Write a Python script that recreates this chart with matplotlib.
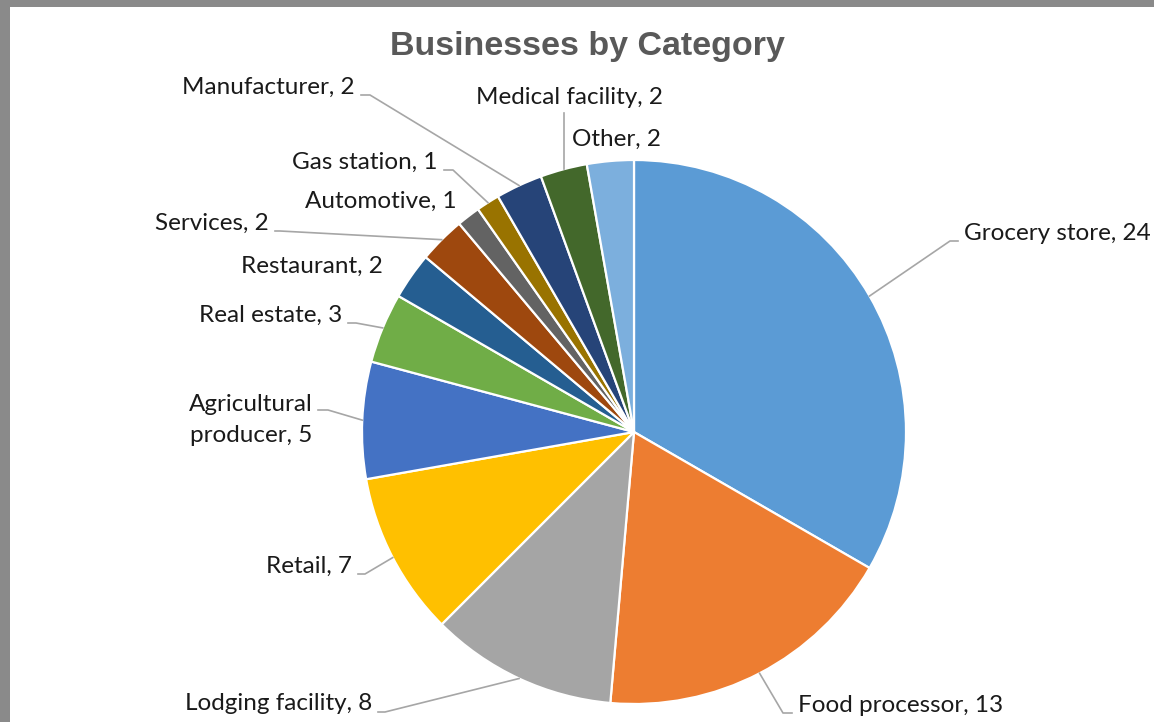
import numpy as np
import matplotlib.pyplot as plt
from matplotlib.patches import Rectangle

# data
categories = ["Grocery store", "Food processor", "Lodging facility", "Retail",
              "Agricultural\nproducer", "Real estate", "Restaurant", "Services",
              "Automotive", "Gas station", "Manufacturer", "Medical facility", "Other"]
counts = [24, 13, 8, 7, 5, 3, 2, 2, 1, 1, 2, 2, 2]
colors = ["#5B9BD5", "#ED7D31", "#A5A5A5", "#FFC000", "#4472C4", "#70AD47",
          "#255E91", "#9E480E", "#636363", "#997300", "#264478", "#43682B", "#7CAFDD"]

W, H = 1154, 722
cx, cy, R = 634, 432, 272   # pie centre / radius in pixels (y from top)

def py(y):
    return H - y

fig = plt.figure(figsize=(W / 100, H / 100), dpi=100)
fig.patch.set_facecolor("#8a8a8a")
ax = fig.add_axes([0, 0, 1, 1])
ax.add_patch(Rectangle((10, 0), W - 10, H - 7, facecolor="white", edgecolor="none", zorder=0))

ax.pie(counts, colors=colors, startangle=90, counterclock=False,
       center=(cx, py(cy)), radius=R,
       wedgeprops=dict(edgecolor="white", linewidth=1.6))
ax.set_xlim(0, W)
ax.set_ylim(0, H)
ax.set_aspect("auto")
ax.axis("off")

ax.text(587, py(47), "Businesses by Category", ha="center", va="center",
        fontsize=24.5, fontweight="bold", color="#595959", family="Liberation Sans")

# label placement (pixel positions) and leader elbow: (x, y, ha, elbow_x or None)
label_pos = {
    "Grocery store": (964, 233, "left", 950),
    "Food processor": (798, 705, "left", 783),
    "Lodging facility": (372, 704, "right", 385),
    "Retail": (352, 566, "right", 365),
    "Agricultural\nproducer": (251, 420, "center", 328),
    "Real estate": (342, 315, "right", 356),
    "Restaurant": (383, 266, "right", None),
    "Services": (269, 223, "right", 280),
    "Automotive": (457, 201, "right", None),
    "Gas station": (438, 162, "right", 453),
    "Manufacturer": (355, 87, "right", 370),
    "Medical facility": (570, 97, "center", "vert"),
    "Other": (617, 139, "center", None),
}

total = sum(counts)
cum = np.cumsum([0] + counts)
lc = "#A6A6A6"
for i, (cat, n) in enumerate(zip(categories, counts)):
    x, y, ha, elbow = label_pos[cat]
    ax.text(x, py(y), f"{cat}, {n}", ha=ha, va="center", fontsize=17.5,
            family="Lato", color="#1a1a1a", linespacing=1.6)
    if elbow is None:
        continue
    mid = (cum[i] + cum[i + 1]) / 2 / total * 2 * np.pi
    ex, ey = cx + R * np.sin(mid), cy - R * np.cos(mid)
    if elbow == "vert":
        ax.plot([ex, ex], [py(y + 16), py(ey)], color=lc, lw=1.2)
        continue
    ly = y + 8 if "\n" not in cat else y - 10
    if ha == "left":
        sx = x - 6
    elif ha == "right":
        sx = x + 6
    else:
        sx = 318
    ax.plot([sx, elbow, ex], [py(ly), py(ly), py(ey)], color=lc, lw=1.2)

plt.savefig("out.png", dpi=100)
